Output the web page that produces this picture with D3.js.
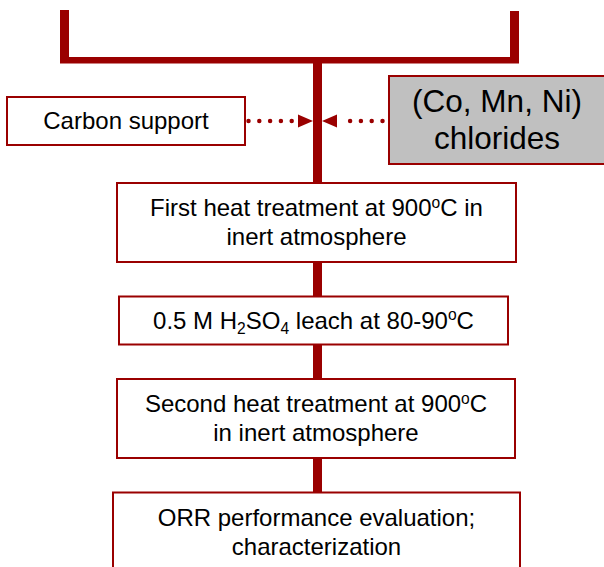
<!DOCTYPE html>
<html>
<head>
<meta charset="utf-8">
<script src="https://cdn.jsdelivr.net/npm/d3@7"></script>
<style>
  body { margin: 0; background: #fff; }
  svg { display: block; }
</style>
</head>
<body>
<div id="viz"></div>
<script>
// process steps, top to bottom  (^x = superscript, _x = subscript)
const STEPS = [
  ["First heat treatment at 900^oC in", "inert atmosphere"],
  ["0.5 M H_2SO_4 leach at 80-90^oC"],
  ["Second heat treatment at 900^oC", "in inert atmosphere"],
  ["ORR performance evaluation;", "characterization"]
];
// the two inputs that feed the first step
const INPUTS = [["Carbon support"], ["(Co, Mn, Ni)", "chlorides"]];
const INPUT_FILLS = ["#ffffff", "#c0c0c0"];

// layout
const width = 604, height = 567;
const RED = "#9a0000";
const trunkX = 317.5, trunkW = 9;
const stepWidths = [399, 389, 398, 407];
const stepCenters = [316.5, 313.5, 316, 316.5];
const firstTop = 183, gap = 34.5, lineH = 29, oneLineBox = 48;
const inputBoxes = [
  {x0: 7, x1: 245, y0: 97, y1: 145, size: 24, lh: 29},
  {x0: 389, x1: 612, y0: 76, y1: 164, size: 31.5, lh: 37}
];
const arrowY = 121;

var svg = d3.select("#viz").append("svg")
  .attr("width", width).attr("height", height)
  .style("font-family", "'Liberation Sans', Arial, sans-serif");

// writes one line with sup/sub parts as tspans
function richLine(sel, str, size) {
  let parts = str.split(/([_^].)/).filter(s => s.length);
  let shift = 0;
  for (let p of parts) {
    let t = sel.append("tspan");
    let target = 0, txt = p, fs = size;
    if (p[0] === "^") { target = -0.36 * size; txt = p[1]; fs = size * 0.65; }
    else if (p[0] === "_") { target = 0.22 * size; txt = p[1]; fs = size * 0.65; }
    t.attr("dy", target - shift).style("font-size", fs + "px").text(txt);
    shift = target;
  }
}

function boxText(g, lines, cx, cy, size, lh) {
  lines.forEach((ln, i) => {
    let base = cy + 0.34 * size + (i - (lines.length - 1) / 2) * lh;
    let t = g.append("text")
      .attr("x", cx).attr("y", base)
      .attr("text-anchor", "middle")
      .style("font-size", size + "px")
      .attr("fill", "#000");
    richLine(t, ln, size);
  });
}

// stack steps vertically
let steps = [];
let yCursor = firstTop;
STEPS.forEach((lines, i) => {
  let h = oneLineBox + (lines.length - 1) * 31;
  steps.push({lines: lines, x0: stepCenters[i] - stepWidths[i] / 2, w: stepWidths[i], y0: yCursor, h: h});
  yCursor += h + gap;
});

// top bracket
let bracket = svg.append("g").attr("fill", RED);
bracket.append("rect").attr("x", 60).attr("y", 10).attr("width", 9).attr("height", 53);
bracket.append("rect").attr("x", 510).attr("y", 11).attr("width", 9).attr("height", 52);
bracket.append("rect").attr("x", 60).attr("y", 57).attr("width", 459).attr("height", 6.5);

// trunk down to the first step
svg.append("rect").attr("fill", RED)
  .attr("x", trunkX - trunkW / 2).attr("y", 62).attr("width", trunkW).attr("height", firstTop - 62);

// connectors between steps
svg.selectAll("rect.conn").data(d3.pairs(steps)).enter().append("rect")
  .attr("class", "conn").attr("fill", RED)
  .attr("x", trunkX - trunkW / 2).attr("width", trunkW)
  .attr("y", d => d[0].y0 + d[0].h)
  .attr("height", d => d[1].y0 - d[0].y0 - d[0].h);

// step boxes
let sg = svg.selectAll("g.step").data(steps).enter().append("g").attr("class", "step");
sg.append("rect")
  .attr("x", d => d.x0).attr("y", d => d.y0)
  .attr("width", d => d.w).attr("height", d => d.h)
  .attr("fill", "#fff").attr("stroke", RED).attr("stroke-width", 2);
sg.each(function(d) {
  boxText(d3.select(this), d.lines, d.x0 + d.w / 2, d.y0 + d.h / 2, 24, lineH);
});

// input boxes
INPUTS.forEach((lines, i) => {
  let b = inputBoxes[i];
  let g = svg.append("g");
  g.append("rect")
    .attr("x", b.x0).attr("y", b.y0).attr("width", b.x1 - b.x0).attr("height", b.y1 - b.y0)
    .attr("fill", INPUT_FILLS[i]).attr("stroke", RED).attr("stroke-width", 2);
  let cx = i === 0 ? (b.x0 + b.x1) / 2 : 497;
  boxText(g, lines, cx, (b.y0 + b.y1) / 2, b.size, b.lh);
});

// dotted arrows into the trunk
let tipL = trunkX - trunkW / 2, tipR = trunkX + trunkW / 2;
let arrows = [
  {from: inputBoxes[0].x1 + 3.5, tip: tipL, dir: 1},
  {from: inputBoxes[1].x0 - 6.5, tip: tipR, dir: -1}
];
arrows.forEach(a => {
  let headBase = a.tip - a.dir * 15;
  svg.append("line")
    .attr("x1", a.from).attr("x2", headBase - a.dir * 5)
    .attr("y1", arrowY).attr("y2", arrowY)
    .attr("stroke", RED).attr("stroke-width", 4.5)
    .attr("stroke-linecap", "round").attr("stroke-dasharray", "0 10.8");
  svg.append("path")
    .attr("d", d3.line()([[headBase, arrowY - 6.5], [a.tip, arrowY], [headBase, arrowY + 6.5]]) + "Z")
    .attr("fill", RED);
});
</script>
</body>
</html>
